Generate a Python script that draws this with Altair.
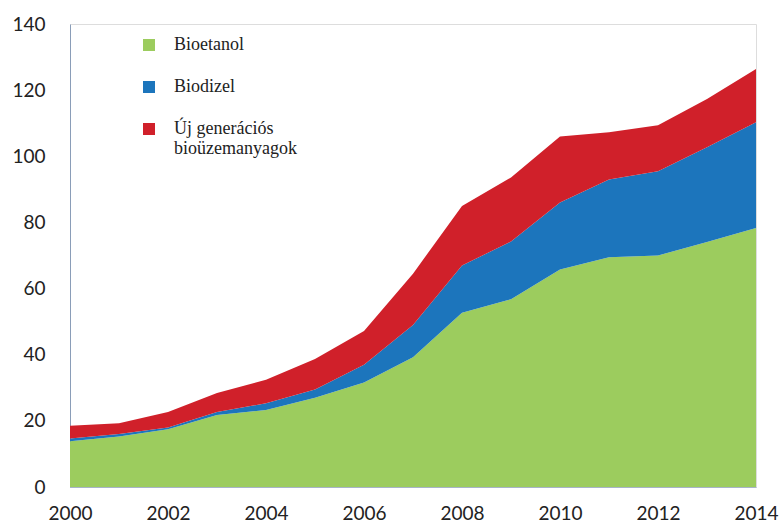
import altair as alt
import pandas as pd

years = list(range(2000, 2015))
series_names = ["Bioetanol", "Biodizel", "Új generációs bioüzemanyagok"]
colors = ["#9CCC5E", "#1C75BC", "#D0202A"]

# cumulative tops
bioetanol = [13.8, 15.3, 17.5, 21.8, 23.3, 27.0, 31.6, 39.2, 52.7, 56.8, 65.8, 69.5, 70.0, 74.1, 78.3]
biodizel_top = [14.7, 16.0, 18.0, 22.7, 25.3, 29.5, 37.0, 49.0, 67.0, 74.2, 86.0, 93.0, 95.5, 102.7, 110.3]
total_top = [18.5, 19.3, 22.7, 28.4, 32.4, 38.7, 47.2, 64.5, 85.0, 93.6, 106.0, 107.3, 109.4, 117.3, 126.4]

biodizel = [round(b - a, 2) for a, b in zip(bioetanol, biodizel_top)]
ujgen = [round(c - b, 2) for b, c in zip(biodizel_top, total_top)]

rows = []
for i, y in enumerate(years):
    for k, (name, vals) in enumerate(zip(series_names, [bioetanol, biodizel, ujgen])):
        rows.append({"year": y, "series": name, "value": vals[i], "order": k})
df = pd.DataFrame(rows)

label_expr = ("datum.label == 'Új generációs bioüzemanyagok' ? "
              "['Új generációs', 'bioüzemanyagok'] : datum.label")

chart = alt.Chart(df).mark_area(interpolate="linear").encode(
    x=alt.X("year:Q",
            scale=alt.Scale(domain=[2000, 2014], nice=False, zero=False),
            axis=alt.Axis(values=list(range(2000, 2015, 2)), format="d", title=None,
                          grid=False, ticks=False, labelPadding=17,
                          domainColor="#A7B4C8", labelFont="Lato", labelFontSize=19,
                          labelColor="#222222", labelFlush=False)),
    y=alt.Y("value:Q", stack="zero",
            scale=alt.Scale(domain=[0, 140], nice=False),
            axis=alt.Axis(values=list(range(0, 141, 20)), title=None, grid=False,
                          ticks=False, labelPadding=25, domainColor="#8A9DB8",
                          labelFont="Lato", labelFontSize=19, labelColor="#222222")),
    color=alt.Color("series:N",
                    scale=alt.Scale(domain=series_names, range=colors),
                    legend=alt.Legend(title=None, orient="none", legendX=70, legendY=12,
                                      symbolType="square", symbolSize=144,
                                      symbolStrokeWidth=0, labelOffset=16,
                                      labelFont="Liberation Serif", labelFontSize=18,
                                      labelColor="#222222", rowPadding=24,
                                      labelExpr=label_expr, labelLimit=300)),
    order=alt.Order("order:Q", sort="ascending"),
).properties(
    width=686,
    height=463,
    padding={"left": 70, "top": 24, "right": 28, "bottom": 35},
    autosize=alt.AutoSizeParams(type="none"),
).configure_view(stroke=None).configure(background="white")

chart.save("out.html", embed_options={"renderer": "svg", "actions": False})
